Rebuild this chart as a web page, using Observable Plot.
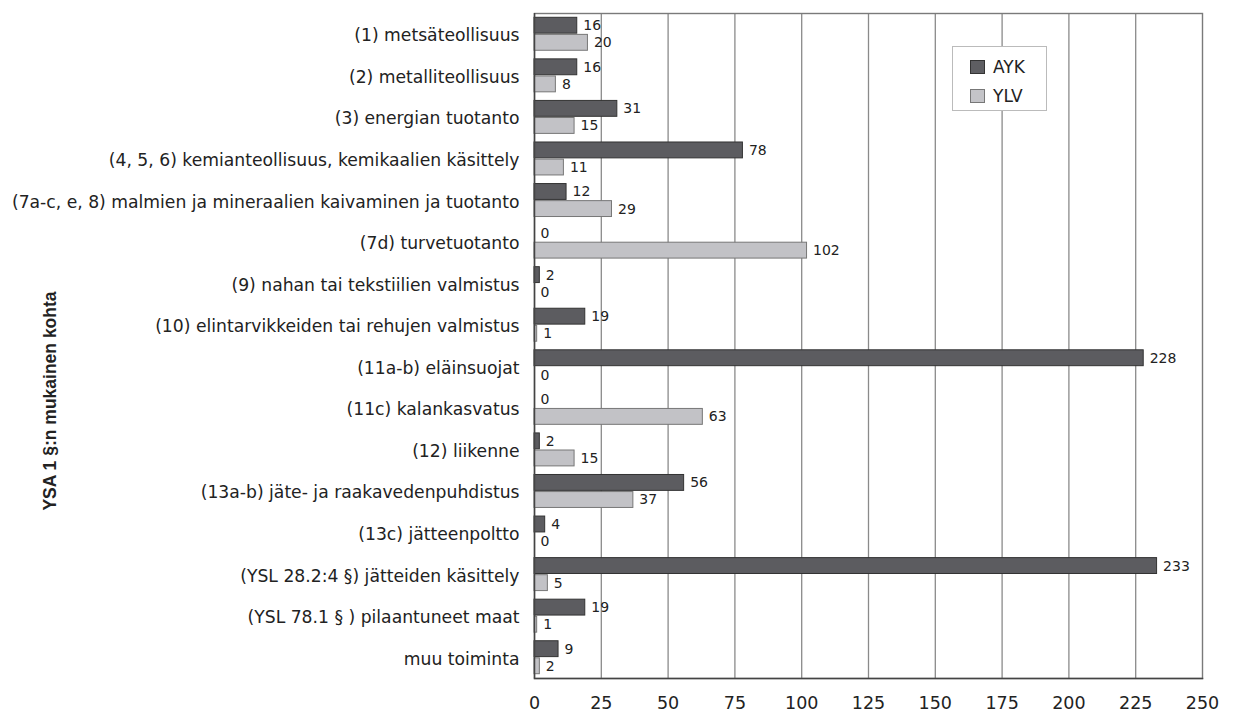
<!DOCTYPE html>
<html><head><meta charset="utf-8">
<script src="https://cdn.jsdelivr.net/npm/d3@7"></script>
<script src="https://cdn.jsdelivr.net/npm/@observablehq/plot@0.6"></script>
<style>
body{margin:0;background:#fff;}
#wrap{position:relative;width:1233px;height:713px;font-family:"DejaVu Sans",Verdana,sans-serif;color:#222;}
#ytitle{position:absolute;left:50px;top:401px;transform:translate(-50%,-50%) rotate(-90deg);white-space:nowrap;font-family:"Liberation Sans",Arial,sans-serif;font-weight:bold;font-size:17.5px;color:#222;}
#legend{position:absolute;left:952px;top:46px;width:93px;height:63px;border:1px solid #bbb;background:#fff;font-size:17px;}
.row{position:absolute;left:17px;display:flex;align-items:center;}
.sw{width:13px;height:12px;margin-right:8px;border:1px solid #555;}
</style></head><body>
<div id="wrap">
  <div id="chart"></div>
  <div id="ytitle">YSA 1 §:n mukainen kohta</div>
  <div id="legend">
    <div class="row" style="top:10px"><div class="sw" style="background:#5e5e62;border-color:#333"></div>AYK</div>
    <div class="row" style="top:39px"><div class="sw" style="background:#c4c4c8;border-color:#777"></div>YLV</div>
  </div>
</div>
<script>
const categories = [
  "(1) metsäteollisuus",
  "(2) metalliteollisuus",
  "(3) energian tuotanto",
  "(4, 5, 6) kemianteollisuus, kemikaalien käsittely",
  "(7a-c, e, 8) malmien ja mineraalien kaivaminen ja tuotanto",
  "(7d) turvetuotanto",
  "(9) nahan tai tekstiilien valmistus",
  "(10) elintarvikkeiden tai rehujen valmistus",
  "(11a-b) eläinsuojat",
  "(11c) kalankasvatus",
  "(12) liikenne",
  "(13a-b) jäte- ja raakavedenpuhdistus",
  "(13c) jätteenpoltto",
  "(YSL 28.2:4 §) jätteiden käsittely",
  "(YSL 78.1 § ) pilaantuneet maat",
  "muu toiminta"
];
const aykValues = [16, 16, 31, 78, 12, 0, 2, 19, 228, 0, 2, 56, 4, 233, 19, 9];
const ylvValues = [20, 8, 15, 11, 29, 102, 0, 1, 0, 63, 15, 37, 0, 5, 1, 2];
const seriesNames = ["AYK", "YLV"];
const xTicks = [0, 25, 50, 75, 100, 125, 150, 175, 200, 225, 250];

const W = 1233, H = 713, mT = 13, mB = 35, mL = 534, mR = 31;
const SEP = "\u2063|";
const key = (c, s) => c + SEP + s;
const yDomain = categories.flatMap(c => seriesNames.map(s => key(c, s)));
const step = (H - mT - mB) / yDomain.length;
const gap = 4.3;

const data = categories.flatMap((c, i) => [
  {category: c, series: "AYK", value: aykValues[i], key: key(c, "AYK")},
  {category: c, series: "YLV", value: ylvValues[i], key: key(c, "YLV")}
]);
const aykData = data.filter(d => d.series === "AYK");
const ylvData = data.filter(d => d.series === "YLV");

const chart = Plot.plot({
  width: W,
  height: H,
  marginLeft: mL,
  marginRight: mR,
  marginTop: mT,
  marginBottom: mB,
  style: {fontFamily: "'DejaVu Sans', Verdana, sans-serif", fontSize: "17px", color: "#222", background: "#fff", overflow: "visible"},
  x: {domain: [0, 250], label: null},
  y: {domain: yDomain, padding: 0, round: false, label: null},
  marks: [
    Plot.gridX(xTicks.slice(1, -1), {stroke: "#8a8a8a", strokeOpacity: 1, strokeWidth: 1.3}),
    Plot.frame({stroke: "#7a7a7a", strokeWidth: 1.4}),
    Plot.barX(aykData, {
      x: "value", y: "key", fill: "#5c5c60", stroke: "#333", strokeWidth: 1,
      insetTop: gap, insetBottom: 0.6
    }),
    Plot.barX(ylvData, {
      x: "value", y: "key", fill: "#c2c2c6", stroke: "#777", strokeWidth: 1,
      insetTop: 0.6, insetBottom: gap
    }),
    Plot.ruleX([0], {stroke: "#444", strokeWidth: 1.5}),
    Plot.frame({anchor: "bottom", stroke: "#444", strokeWidth: 1.5}),
    Plot.axisX({ticks: xTicks, tickSize: 0, tickPadding: 18, fontSize: 17.5, label: null}),
    Plot.axisY({
      ticks: categories.map(c => key(c, "AYK")),
      tickFormat: d => d.split(SEP)[0],
      tickSize: 0, tickPadding: 15, dy: step / 2 + 1.5, label: null, fontSize: 17.2
    }),
    Plot.text(aykData, {
      x: "value", y: "key", text: d => String(d.value),
      dx: 6, dy: (gap - 0.6) / 2, textAnchor: "start", fontSize: 14, fill: "#222"
    }),
    Plot.text(ylvData, {
      x: "value", y: "key", text: d => String(d.value),
      dx: 6, dy: -(gap - 0.6) / 2, textAnchor: "start", fontSize: 14, fill: "#222"
    })
  ]
});
document.getElementById("chart").appendChild(chart);
</script>
</body></html>
